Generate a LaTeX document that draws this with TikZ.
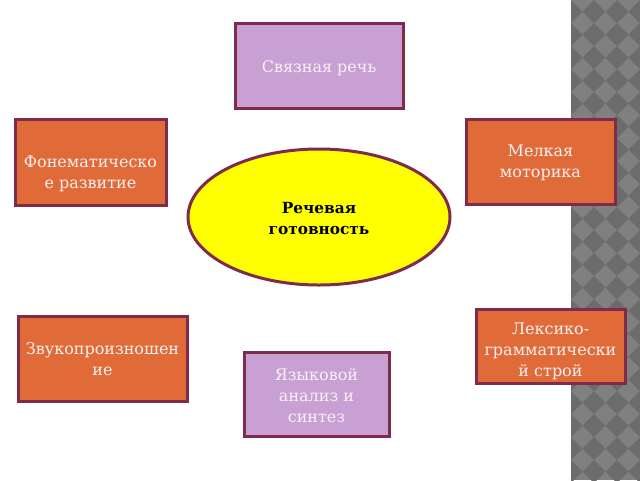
\documentclass[tikz,border=0pt]{standalone}
\usepackage{fontspec}
\setmainfont{DejaVu Serif}
\usepackage{xcolor}
\usetikzlibrary{shapes.geometric}
\definecolor{rim}{HTML}{7F2C4C}
\definecolor{lilac}{HTML}{C9A0D3}
\definecolor{carrot}{HTML}{E06A38}
\definecolor{sun}{HTML}{FFFF00}
\definecolor{lighttxt}{HTML}{F8F0F4}
\definecolor{stripdark}{HTML}{6C6C6C}
\definecolor{striplight}{HTML}{808080}
\begin{document}
\begin{tikzpicture}[x=0.75pt,y=-0.75pt]
\tikzset{box/.style={draw=rim, line width=2.25pt, rectangle, inner sep=0pt}}
\tikzset{txt/.style={align=center, text=lighttxt, font=\fontsize{12}{15.75}\selectfont}}

\tikzstyle{lilacbox} = [box, fill=lilac]
\tikzstyle{carrotbox} = [box, fill=carrot]

\useasboundingbox (0,0) rectangle (640,480);
\fill[white] (0,0) rectangle (640,480);

% checkered strip on the right
\fill[striplight] (571,0) rectangle (640,480);
\begin{scope}
\clip (571,0) rectangle (640,480);
\foreach \i in {0,...,4}
\foreach \j in {0,...,22}
\fill[stripdark] ({571+23*\i},{23*\j}) -- ++(11.5,11.5) -- ++(-11.5,11.5) -- ++(-11.5,-11.5) -- cycle;
\end{scope}

\node[lilacbox, minimum width=126pt, minimum height=63.75pt] (v1) at (319,65.5) {};
\node[carrotbox, minimum width=113.25pt, minimum height=64.5pt] (v2) at (90.5,162) {};
\node[carrotbox, minimum width=111.75pt, minimum height=63.75pt] (v3) at (540.5,161.5) {};
\node[draw=rim, line width=2.25pt, fill=sun, ellipse, minimum width=196.5pt, minimum height=102pt] (v4) at (319,217) {};
\node[carrotbox, minimum width=126.75pt, minimum height=63.75pt] (v5) at (102.5,358.5) {};
\node[carrotbox, minimum width=111.75pt, minimum height=55.5pt] (v6) at (550.5,346) {};
\node[lilacbox, minimum width=108.75pt, minimum height=63pt] (v7) at (316.5,394) {};

\node[txt] (t1) at (319,68) {Связная речь};
\node[txt] (t2) at (90.5,174) {Фонематическо\\е развитие};
\node[txt] (t3) at (540.5,162.5) {Мелкая\\моторика};
\node[txt, text=black, font=\bfseries\fontsize{11.5}{15.75}\selectfont] (t4) at (319,218.5) {Речевая\\готовность};
\node[txt] (t5) at (102.5,359.5) {Звукопроизношен\\ие};
\node[txt] (t6) at (550.5,351.5) {Лексико-\\грамматически\\й строй};
\node[txt] (t7) at (316.5,395.5) {Языковой\\анализ и\\синтез};
\end{tikzpicture}
\end{document}
